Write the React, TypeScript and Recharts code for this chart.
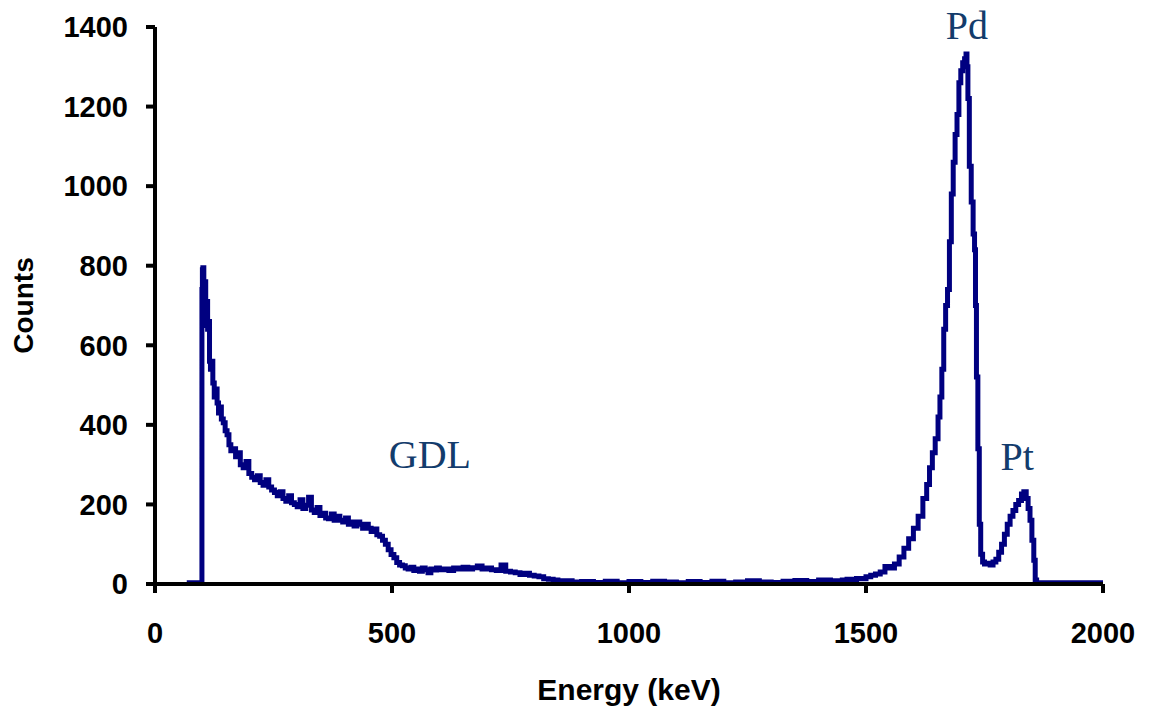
import React from 'react';
import { LineChart, Line, XAxis, YAxis, ReferenceDot } from 'recharts';

const energyKeV: number[] = [
  67, 98, 99, 100, 101, 103, 105, 107, 109, 111, 113, 115, 117, 119, 122, 125, 128, 131, 134, 137,
  140, 144, 148, 152, 156, 160, 165, 170, 175, 180, 186, 192, 198, 204, 210, 216, 222, 228, 234, 240,
  246, 252, 258, 264, 270, 276, 282, 288, 294, 300, 306, 312, 318, 324, 330, 336, 342, 348, 354, 360,
  366, 372, 378, 384, 390, 396, 402, 408, 414, 420, 426, 432, 438, 444, 450, 456, 462, 468, 474, 480,
  486, 492, 498, 504, 510, 516, 522, 528, 534, 540, 546, 552, 558, 564, 570, 576, 582, 588, 594, 600,
  610, 620, 630, 640, 650, 660, 670, 680, 690, 700, 710, 720, 730, 740, 750, 760, 770, 780, 790, 800,
  810, 820, 830, 840, 850, 860, 870, 880, 900, 925, 950, 975, 1000, 1025, 1050, 1075, 1100, 1125, 1150,
  1175, 1200, 1225, 1250, 1275, 1300, 1325, 1350, 1375, 1400, 1425, 1450, 1460, 1470, 1480, 1490, 1500,
  1510, 1520, 1530, 1540, 1550, 1560, 1570, 1580, 1590, 1600, 1610, 1620, 1628, 1634, 1640, 1646, 1652,
  1656, 1660, 1664, 1668, 1672, 1676, 1680, 1684, 1688, 1692, 1696, 1700, 1704, 1708, 1711, 1713, 1715,
  1718, 1722, 1726, 1729, 1731, 1733, 1736, 1739, 1742, 1746, 1750, 1756, 1762, 1768, 1774, 1780, 1786,
  1792, 1798, 1804, 1810, 1816, 1822, 1828, 1833, 1838, 1842, 1846, 1850, 1854, 1857, 1860, 2000,
];

const counts: number[] = [
  3, 3, 740, 790, 795, 700, 760, 650, 710, 640, 660, 560, 540, 560, 505, 470, 490, 455, 430, 445,
  415, 405, 385, 375, 350, 335, 340, 320, 330, 300, 292, 308, 278, 268, 262, 272, 255, 248, 262, 244,
  236, 230, 222, 232, 215, 208, 222, 204, 200, 194, 212, 190, 198, 218, 186, 180, 192, 172, 178, 166,
  164, 176, 160, 170, 160, 156, 166, 150, 156, 146, 156, 150, 140, 150, 140, 132, 138, 124, 120, 110,
  100, 86, 74, 66, 54, 48, 46, 40, 38, 42, 34, 38, 32, 40, 36, 28, 38, 35, 40, 36,
  38, 34, 40, 38, 42, 38, 41, 45, 38, 40, 36, 34, 48, 32, 30, 28, 24, 27, 22, 20,
  18, 13, 12, 10, 8, 6, 8, 5, 6, 4, 7, 3, 6, 4, 7, 5, 3, 6, 4,
  7, 3, 5, 8, 5, 4, 7, 9, 6, 10, 8, 10, 12, 11, 14, 13, 18,
  22, 25, 30, 44, 40, 50, 68, 90, 114, 140, 170, 215, 250, 292, 330, 365, 420,
  470, 540, 640, 700, 740, 860, 980, 1060, 1130, 1180, 1260, 1290, 1310, 1320, 1332, 1300, 1220,
  1050, 960, 880, 840, 700, 520, 340, 150, 75, 55, 50, 52, 48, 55, 62, 80, 100,
  125, 150, 170, 185, 200, 210, 226, 232, 215, 190, 160, 110, 60, 10, 3, 3,
];

const xTicks: number[] = [0, 500, 1000, 1500, 2000];
const yTicks: number[] = [0, 200, 400, 600, 800, 1000, 1200, 1400];

const peakLabels: string[] = ['GDL', 'Pd', 'Pt'];
const peakLabelX: number[] = [580, 1713, 1819];
const peakLabelY: number[] = [291, 1370, 286];

const data = energyKeV.map((e, i) => ({ e, c: counts[i] }));

const tickFont = {
  fontFamily: '"Liberation Sans", Arial, sans-serif',
  fontWeight: 700,
  fontSize: 29,
  fill: '#000',
};

const annoColor = '#133C6C';

export default function App() {
  return (
    <div style={{ position: 'absolute', left: 0, top: 0 }}>
      <LineChart
        width={1149}
        height={718}
        data={data}
        margin={{ top: 27, right: 46, bottom: 0, left: 0 }}
      >
        <XAxis
          dataKey="e"
          type="number"
          domain={[0, 2000]}
          ticks={xTicks}
          allowDataOverflow
          height={134}
          axisLine={{ stroke: '#000', strokeWidth: 4 }}
          tickLine={{ stroke: '#000', strokeWidth: 4 }}
          tickSize={9}
          tickMargin={29}
          tick={tickFont}
          label={{
            content: (props: any) => {
              const vb = props.viewBox;
              return (
                <text
                  x={vb.x + vb.width / 2}
                  y={vb.y + 116}
                  textAnchor="middle"
                  style={{ ...tickFont, fontSize: 30 }}
                >
                  Energy (keV)
                </text>
              );
            },
          }}
        />
        <YAxis
          type="number"
          domain={[0, 1400]}
          ticks={yTicks}
          allowDataOverflow
          width={155}
          axisLine={{ stroke: '#000', strokeWidth: 4 }}
          tickLine={{ stroke: '#000', strokeWidth: 4 }}
          tickSize={9}
          tickMargin={18}
          tick={tickFont}
          label={{
            content: (props: any) => {
              const vb = props.viewBox;
              const cx = 33;
              const cy = vb.y + vb.height / 2;
              return (
                <text
                  x={cx}
                  y={cy}
                  textAnchor="middle"
                  transform={`rotate(-90 ${cx} ${cy})`}
                  style={{ ...tickFont, fontSize: 28 }}
                >
                  Counts
                </text>
              );
            },
          }}
        />
        <Line
          type="stepAfter"
          dataKey="c"
          stroke="#000080"
          strokeWidth={5}
          dot={false}
          activeDot={false}
          isAnimationActive={false}
          strokeLinejoin="miter"
        />
        {peakLabels.map((t, i) => (
          <ReferenceDot
            key={t}
            x={peakLabelX[i]}
            y={peakLabelY[i]}
            r={0}
            fill="none"
            stroke="none"
            ifOverflow="visible"
            label={{
              content: (props: any) => {
                const vb = props.viewBox;
                return (
                  <text
                    x={vb.x + (vb.width || 0) / 2}
                    y={vb.y + (vb.height || 0) / 2}
                    textAnchor="middle"
                    style={{
                      fontFamily: '"Liberation Serif", "Times New Roman", serif',
                      fontSize: 40,
                      fill: annoColor,
                    }}
                  >
                    {t}
                  </text>
                );
              },
            }}
          />
        ))}
      </LineChart>
    </div>
  );
}
